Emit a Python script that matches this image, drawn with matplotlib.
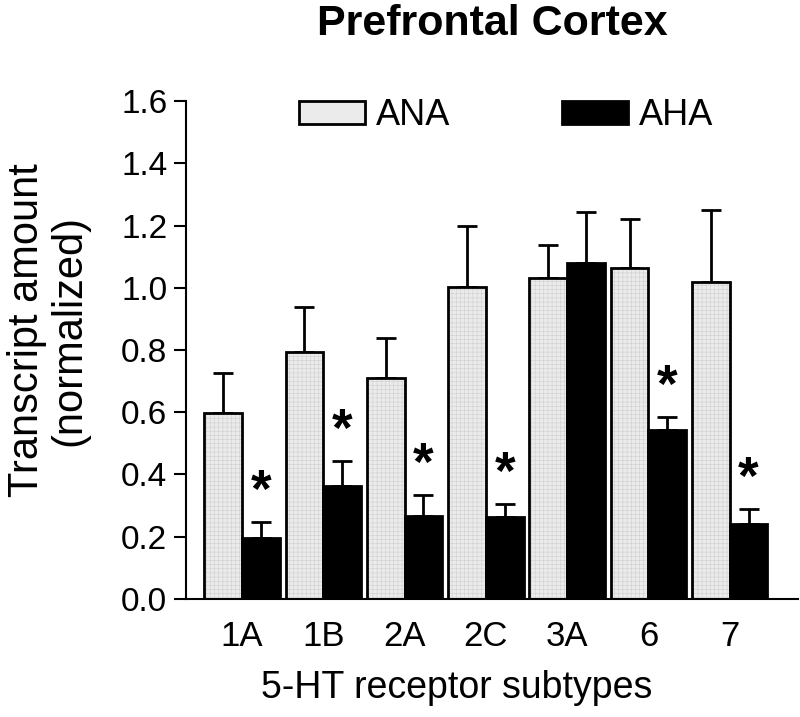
import numpy as np
import matplotlib.pyplot as plt
from matplotlib.patches import Patch

# receptor subtypes and the two groups (means and upward SEM)
subtypes = ['1A', '1B', '2A', '2C', '3A', '6', '7']
ana_mean = [0.597, 0.793, 0.709, 1.003, 1.032, 1.062, 1.017]
ana_err = [0.128, 0.145, 0.129, 0.196, 0.105, 0.158, 0.233]
aha_mean = [0.195, 0.363, 0.266, 0.262, 1.080, 0.542, 0.242]
aha_err = [0.052, 0.080, 0.067, 0.042, 0.162, 0.042, 0.047]
aha_signif = [True, True, True, True, False, True, True]


def main():
    plt.rcParams['font.family'] = ['Liberation Sans', 'DejaVu Sans']
    plt.rcParams['hatch.linewidth'] = 0.4

    fig = plt.figure(figsize=(8, 7.17), dpi=100)
    ax = fig.add_axes([0.2325, 0.1646, 0.765, 0.6945])

    x = np.arange(len(subtypes))
    w = 0.464
    lw = 2.0

    #gray bars: stipple fill first, black outline on top
    ax.bar(x - w/2, ana_mean, w, color='#ebebeb', edgecolor='#d0d0d0',
           hatch='++++', linewidth=0, zorder=2)
    ax.bar(x - w/2, ana_mean, w, facecolor='none', edgecolor='black',
           linewidth=lw, zorder=3)
    ax.bar(x + w/2, aha_mean, w, color='black', edgecolor='black',
           linewidth=lw, zorder=3)

    #upward error bars only
    ax.errorbar(x - w/2, ana_mean, yerr=[np.zeros(len(x)), ana_err], fmt='none',
                ecolor='black', elinewidth=lw, capsize=7.5, capthick=lw, zorder=1)
    ax.errorbar(x + w/2, aha_mean, yerr=[np.zeros(len(x)), aha_err], fmt='none',
                ecolor='black', elinewidth=lw, capsize=7.5, capthick=lw, zorder=1)

    #significance stars
    for i in range(len(x)):
        if aha_signif[i]:
            ax.text(x[i] + w/2, aha_mean[i] + aha_err[i] + 0.095, '*',
                    ha='center', va='center', fontsize=38, fontweight='bold')

    ax.set_xlim(-0.69, 6.84)
    ax.set_ylim(0, 1.6)
    ax.set_yticks(np.arange(0, 1.61, 0.2))
    ax.set_yticklabels(['%.1f' % v for v in np.arange(0, 1.61, 0.2)])
    ax.set_xticks(x)
    ax.set_xticklabels(subtypes)

    for s in ['top', 'right']:
        ax.spines[s].set_visible(False)
    for s in ['left', 'bottom']:
        ax.spines[s].set_linewidth(1.5)
    ax.tick_params(axis='y', length=8.5, width=1.5, labelsize=24, pad=5)
    ax.tick_params(axis='x', length=0, labelsize=25, pad=15)

    ax.set_xlabel('5-HT receptor subtypes', fontsize=27)
    ax.xaxis.set_label_coords(0.443, -0.142)
    ax.set_ylabel('Transcript amount\n(normalized)', fontsize=30,
                  linespacing=1.05)
    ax.yaxis.set_label_coords(-0.1585, 0.54)
    ax.set_title('Prefrontal Cortex', fontsize=31, fontweight='bold', pad=47.5)

    handles = [Patch(facecolor='#ebebeb', edgecolor='black', linewidth=lw),
               Patch(facecolor='black', edgecolor='black', linewidth=lw)]
    fig.legend(handles, ['ANA', 'AHA'], ncol=2, frameon=False, fontsize=26,
               loc='upper left', bbox_to_anchor=(299/800, 1 - 98/717),
               borderpad=0, borderaxespad=0, handlelength=1.83, handleheight=0.62,
               handletextpad=0.3, columnspacing=3.08)

    fig.savefig('out.png', dpi=100)


if __name__ == "__main__":
    main()
